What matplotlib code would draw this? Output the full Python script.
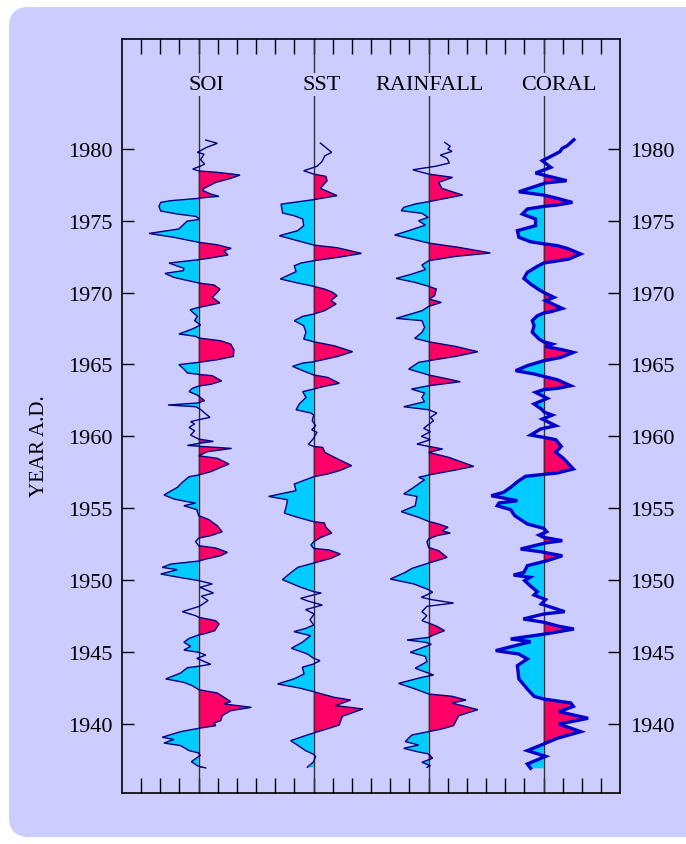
import numpy as np
import matplotlib.pyplot as plt
from matplotlib.patches import FancyBboxPatch

plt.rcParams['font.family'] = ['Liberation Serif', 'DejaVu Serif']

BG = '#CCCCFF'
RED = '#FF0066'
CYAN = '#00CCFF'

# series names and baseline positions (tick units on the x axis)
names = ['SOI', 'SST', 'RAINFALL', 'CORAL']
bases = [4, 10, 16, 22]
label_x = [4.42, 10.43, 16.07, 22.8]

# SOI: year, anomaly (x units)
soi_year = [1980.62, 1980.39, 1980.11, 1979.76, 1979.64, 1979.25, 1978.95, 1978.83, 1978.60, 1978.47,
            1978.37, 1978.25, 1978.18, 1977.95, 1977.67, 1977.26, 1977.12, 1976.86, 1976.70, 1976.65,
            1976.56, 1976.40, 1976.28, 1976.00, 1975.68, 1975.47, 1975.31, 1975.17, 1975.08, 1974.98,
            1974.77, 1974.43, 1974.12, 1973.85, 1973.50, 1973.33, 1973.08, 1972.92, 1972.62, 1972.41,
            1972.29, 1972.06, 1971.69, 1971.53, 1971.34, 1971.06, 1970.67, 1970.53, 1970.25, 1970.02,
            1969.67, 1969.28, 1969.09, 1968.97, 1968.81, 1968.35, 1968.05, 1967.75, 1967.47, 1967.12,
            1966.96, 1966.84, 1966.65, 1966.42, 1966.03, 1965.56, 1965.33, 1965.15, 1964.99, 1964.68,
            1964.41, 1964.31, 1964.22, 1963.85, 1963.62, 1963.50, 1963.34, 1963.11, 1962.87, 1962.48,
            1962.32, 1962.18, 1962.06, 1961.90, 1961.32, 1961.16, 1961.02, 1960.86, 1960.62, 1960.39,
            1960.09, 1959.81, 1959.65, 1959.53, 1959.37, 1959.30, 1959.16, 1958.93, 1958.65, 1958.47,
            1958.07, 1957.84, 1957.54, 1957.31, 1957.19, 1956.80, 1956.45, 1955.92, 1955.64, 1955.45,
            1955.36, 1955.17, 1954.90, 1954.48, 1954.20, 1953.78, 1953.36, 1953.09, 1952.92, 1952.67,
            1952.39, 1952.23, 1951.93, 1951.69, 1951.46, 1951.32, 1951.11, 1950.88, 1950.72, 1950.42,
            1950.19, 1949.96, 1949.73, 1949.49, 1949.10, 1948.87, 1948.57, 1948.17, 1947.80, 1947.52,
            1947.41, 1947.17, 1946.94, 1946.48, 1946.25, 1946.18, 1945.94, 1945.67, 1945.39, 1945.13,
            1944.97, 1944.78, 1944.55, 1944.14, 1944.00, 1943.90, 1943.53, 1943.12, 1942.88, 1942.65,
            1942.37, 1942.14, 1941.84, 1941.54, 1941.38, 1941.14, 1940.91, 1940.56, 1940.22, 1940.05,
            1939.87, 1939.68, 1939.45, 1939.06, 1938.90, 1938.66, 1938.48, 1938.13, 1937.97, 1937.80,
            1937.36, 1937.08, 1936.92]
soi_val = [0.37, 0.97, 0.42, -0.07, 0.28, 0.10, 0.31, 0.14, -0.31, 0.0,
           0.97, 1.76, 2.16, 1.67, 0.89, 0.28, 0.19, 0.63, 1.06, 0.54,
           0.0, -1.46, -1.98, -2.07, -1.98, -1.11, -0.16, 0.0, -0.03, -0.59,
           -0.77, -1.03, -2.59, -1.29, 0.0, 0.97, 1.70, 1.32, 1.53, 0.63,
           0.0, -1.55, -0.77, -0.80, -1.76, -1.29, 0.0, 0.80, 1.11, 0.97,
           0.71, 1.11, 0.45, 0.0, -0.45, -0.07, -0.21, 0.10, -0.33, -1.03,
           -0.16, 0.0, 1.15, 1.67, 1.84, 1.81, 0.97, 0.0, -1.03, -0.77,
           -0.59, 0.0, 0.71, 1.20, 0.63, 0.0, -0.33, -0.50, -0.07, 0.31,
           -0.07, -1.60, -0.16, 0.07, 0.59, 0.0, -0.42, -0.21, -0.50, -0.21,
           -0.42, 0.0, 0.77, 0.10, -0.59, 0.10, 1.72, 0.45, 0.0, 0.97,
           1.58, 1.15, 0.63, 0.0, -0.50, -0.85, -1.11, -1.81, -1.29, -0.59,
           -0.16, -0.77, -0.10, 0.0, 0.54, 0.97, 1.23, 0.63, 0.0, -0.16,
           0.0, 0.89, 1.50, 1.15, 0.37, 0.0, -1.46, -1.90, -1.11, -1.98,
           -1.03, 0.0, 0.71, 0.07, 0.77, 0.14, 0.49, 0.03, -0.85, -0.16,
           0.0, 0.89, 1.06, 0.84, 0.28, 0.0, -0.50, -0.77, -0.42, -0.77,
           0.0, 0.37, -0.10, 0.63, 0.0, -0.59, -0.94, -1.72, -0.77, -0.33,
           0.0, 0.97, 1.32, 1.67, 1.32, 2.75, 1.67, 1.23, 1.15, 0.80,
           0.89, 0.0, -0.94, -1.90, -1.29, -1.81, -0.94, -0.50, 0.0, 0.08,
           -0.38, -0.07, 0.37]
soi_gaps = [(1978.47, 1981), (1959.81, 1962.0), (1952.39, 1952.92), (1947.41, 1949.96), (1944.0, 1944.97)]

sst_year = [1980.41, 1979.76, 1979.53, 1979.11, 1978.79, 1978.48, 1978.25, 1978.09, 1977.79, 1977.26,
            1976.98, 1976.75, 1976.47, 1976.16, 1975.54, 1975.35, 1975.12, 1974.66, 1974.31, 1973.96,
            1973.61, 1973.31, 1973.12, 1972.73, 1972.45, 1972.22, 1972.06, 1971.87, 1971.46, 1970.95,
            1970.67, 1970.44, 1970.25, 1970.02, 1969.79, 1969.44, 1969.21, 1968.74, 1968.51, 1968.35,
            1968.05, 1967.70, 1967.24, 1966.77, 1966.58, 1966.30, 1965.89, 1965.56, 1965.19, 1965.10,
            1964.87, 1964.57, 1964.27, 1964.10, 1963.69, 1963.48, 1963.29, 1963.11, 1962.71, 1962.25,
            1961.85, 1961.62, 1961.48, 1961.09, 1960.74, 1960.46, 1960.28, 1959.81, 1959.44, 1959.30,
            1959.23, 1958.88, 1958.54, 1957.96, 1957.61, 1957.38, 1957.19, 1956.68, 1956.22, 1955.82,
            1955.59, 1955.06, 1954.66, 1954.36, 1954.06, 1953.97, 1953.67, 1953.27, 1952.97, 1952.67,
            1952.44, 1952.20, 1952.09, 1951.81, 1951.51, 1951.18, 1950.88, 1950.50, 1950.03, 1949.50,
            1949.19, 1949.10, 1948.73, 1948.54, 1948.26, 1947.94, 1947.64, 1947.24, 1946.87, 1946.64,
            1946.41, 1946.13, 1945.67, 1945.25, 1944.86, 1944.55, 1944.39, 1944.16, 1943.93, 1943.46,
            1943.12, 1942.77, 1942.47, 1942.23, 1941.84, 1941.65, 1941.26, 1941.03, 1940.52, 1939.91,
            1939.64, 1939.36, 1939.06, 1938.82, 1938.52, 1938.13, 1937.87, 1937.73, 1937.36, 1936.97]
sst_val = [0.35, 0.94, 0.59, 0.43, 0.17, -0.52, 0.0, 0.64, 0.70, 0.35,
           0.82, 1.22, 0.0, -1.70, -1.62, -1.01, -0.57, -0.52, -0.83, -1.79,
           -0.83, 0.0, 1.25, 2.50, 1.25, 0.0, -0.66, -1.01, -0.92, -1.74,
           -0.83, 0.0, 0.56, 0.99, 1.22, 0.90, 1.17, 0.56, 0.0, -0.57,
           -1.01, -0.52, -0.40, -0.52, 0.0, 1.08, 2.03, 1.25, 0.0, -0.57,
           -1.10, -0.57, 0.0, 0.73, 1.34, 0.56, 0.0, -0.57, -0.40, -0.75,
           -0.92, -0.14, 0.0, -0.07, 0.10, -0.10, 0.17, -0.03, -0.28, 0.0,
           0.47, 0.59, 1.08, 1.98, 1.34, 0.73, 0.0, -1.01, -0.92, -2.35,
           -1.36, -1.44, -1.53, -0.83, 0.0, 0.56, 0.64, 0.94, 0.38, 0.0,
           -0.14, 0.0, 0.82, 1.39, 0.90, 0.0, -0.83, -1.20, -1.63, -0.68,
           0.0, 0.40, -0.68, -0.30, 0.45, -0.42, 0.03, -0.19, 0.0, -0.40,
           -1.03, -0.16, -0.59, -1.16, -0.33, 0.0, 0.33, 0.0, -0.59, -0.50,
           -1.03, -1.88, -0.68, 0.0, 1.06, 1.93, 1.15, 2.57, 1.50, 1.33,
           0.70, 0.0, -0.68, -1.20, -0.85, -0.42, 0.0, 0.10, 0.0, -0.33]
sst_gaps = [(1978.25, 1981), (1959.30, 1961.48), (1946.87, 1949.19), (1944.16, 1944.55), (1937.36, 1937.87)]

rain_year = [1980.46, 1980.18, 1979.99, 1979.83, 1979.57, 1979.34, 1979.02, 1978.79, 1978.55, 1978.25,
             1978.02, 1977.67, 1977.25, 1976.79, 1976.51, 1976.33, 1976.17, 1975.93, 1975.70, 1975.52,
             1975.24, 1975.00, 1974.70, 1974.31, 1974.01, 1973.73, 1973.45, 1973.15, 1972.76, 1972.52,
             1972.22, 1971.92, 1971.60, 1971.29, 1970.99, 1970.71, 1970.44, 1970.25, 1969.79, 1969.55,
             1969.32, 1969.04, 1968.74, 1968.21, 1968.05, 1967.58, 1967.23, 1966.82, 1966.58, 1966.26,
             1965.89, 1965.56, 1965.26, 1965.15, 1964.68, 1964.41, 1964.27, 1964.03, 1963.80, 1963.64,
             1963.52, 1963.29, 1963.01, 1962.71, 1962.41, 1962.06, 1961.85, 1961.62, 1961.32, 1961.09,
             1960.56, 1960.32, 1960.00, 1959.77, 1959.46, 1959.30, 1959.12, 1958.88, 1958.54, 1957.91,
             1957.61, 1957.31, 1957.15, 1956.98, 1956.45, 1955.99, 1955.82, 1955.17, 1954.76, 1954.36,
             1954.08, 1953.90, 1953.67, 1953.43, 1953.27, 1953.09, 1952.85, 1952.67, 1952.27, 1952.04,
             1951.58, 1951.35, 1951.18, 1950.81, 1950.53, 1950.07, 1949.73, 1949.33, 1949.15, 1948.80,
             1948.64, 1948.40, 1948.17, 1947.80, 1947.52, 1947.17, 1947.01, 1946.78, 1946.48, 1946.18,
             1946.01, 1945.83, 1945.67, 1945.53, 1944.97, 1944.69, 1944.32, 1943.86, 1943.39, 1943.23,
             1942.81, 1942.42, 1942.07, 1941.91, 1941.65, 1941.44, 1940.98, 1940.56, 1939.87, 1939.64,
             1939.45, 1939.22, 1938.76, 1938.52, 1938.29, 1938.06, 1937.90, 1937.60, 1937.32, 1937.08,
             1936.97]
rain_val = [0.83, 1.13, 1.00, 1.22, 0.61, 0.96, 1.08, 0.35, -0.83, 0.0,
            1.25, 0.52, 0.70, 1.77, 0.70, 0.0, -0.70, -1.30, -1.43, -0.35,
            -0.03, -0.52, -0.17, -1.04, -1.77, -0.87, 0.0, 1.57, 3.22, 1.39,
            0.0, -0.35, -0.17, -0.87, -1.70, -0.70, 0.0, 0.40, 0.31, 0.03,
            0.66, 0.0, -0.35, -1.70, -0.35, -0.21, -0.35, -0.73, 0.0, 1.39,
            2.57, 1.39, 0.0, -0.52, -1.04, -0.35, 0.0, 0.87, 1.65, 0.70,
            0.0, -0.90, -0.21, -0.35, -0.21, -1.30, 0.0, 0.43, 0.09, 0.26,
            -0.26, 0.09, -0.38, 0.09, -0.61, 0.0, 0.73, 0.0, 1.04, 2.35,
            1.22, 0.0, -0.52, -0.21, -0.78, -1.30, -0.61, -0.70, -1.43, -0.52,
            0.0, 0.52, 1.01, 0.70, 1.13, 0.43, 0.0, -0.09, 0.0, 0.52,
            0.96, 0.43, 0.0, -0.87, -1.22, -2.00, -0.78, 0.0, 0.21, -0.38,
            0.14, 1.30, -0.09, -0.35, -0.09, -0.35, 0.0, 0.43, 0.83, 0.26,
            0.0, -1.13, -0.17, 0.14, -0.96, -0.17, -0.09, -0.70, 0.26, -0.35,
            -1.57, -0.70, 0.0, 1.22, 1.95, 1.22, 2.57, 1.57, 1.30, 0.70,
            0.0, -0.87, -1.22, -0.52, -1.30, -0.61, 0.0, 0.21, -0.35, 0.09,
            -0.09]
rain_gaps = [(1978.25, 1981), (1959.30, 1961.85), (1947.01, 1949.33)]

coral_year = [1980.64, 1980.22, 1980.04, 1979.81, 1979.53, 1979.18, 1978.72, 1978.32, 1978.18, 1978.02,
              1977.79, 1977.63, 1977.44, 1977.02, 1976.79, 1976.56, 1976.28, 1976.10, 1976.00, 1975.82,
              1975.47, 1975.12, 1974.66, 1974.31, 1973.85, 1973.54, 1973.40, 1973.27, 1973.08, 1972.69,
              1972.34, 1972.06, 1971.83, 1971.41, 1970.99, 1970.60, 1970.20, 1970.02, 1969.67, 1969.44,
              1968.90, 1968.67, 1968.58, 1968.39, 1968.05, 1967.70, 1967.24, 1966.77, 1966.58, 1966.42,
              1966.25, 1966.03, 1965.84, 1965.49, 1965.26, 1964.92, 1964.57, 1964.34, 1964.17, 1963.94,
              1963.52, 1963.34, 1963.25, 1963.06, 1962.64, 1962.25, 1961.90, 1961.67, 1961.48, 1961.20,
              1960.74, 1960.51, 1960.09, 1959.93, 1959.77, 1959.30, 1958.89, 1958.47, 1957.73, 1957.45,
              1957.35, 1957.22, 1956.84, 1956.45, 1956.10, 1955.87, 1955.68, 1955.52, 1955.36, 1955.17,
              1954.90, 1954.48, 1953.90, 1953.60, 1953.36, 1953.13, 1952.97, 1952.74, 1952.58, 1952.16,
              1951.97, 1951.69, 1951.35, 1951.00, 1950.53, 1950.35, 1950.19, 1949.96, 1949.61, 1949.19,
              1948.96, 1948.64, 1948.33, 1947.80, 1947.64, 1947.29, 1947.06, 1946.78, 1946.59, 1946.25,
              1945.90, 1945.71, 1945.09, 1944.85, 1944.51, 1944.04, 1943.12, 1942.42, 1941.91, 1941.72,
              1941.45, 1941.21, 1940.84, 1940.38, 1939.98, 1939.45, 1938.99, 1938.59, 1938.13, 1937.73,
              1937.20, 1936.90]
coral_val = [1.58, 1.23, 0.97, 0.85, 0.45, -0.07, 0.37, -0.42, 0.0, 0.50,
             1.20, 0.10, -0.33, -1.29, 0.0, 0.71, 1.50, 0.71, 0.0, -0.85,
             -1.11, -0.42, -0.42, -1.37, -1.29, -0.68, 0.0, 0.71, 1.23, 1.93,
             1.32, 0.0, -0.33, -0.85, -1.03, -0.68, -0.24, 0.0, 0.54, 0.10,
             0.97, 0.37, 0.0, -0.33, -0.59, -0.50, -0.59, -0.24, 0.0, 0.45,
             0.10, 0.97, 1.55, 0.89, 0.0, -0.85, -1.46, -0.50, 0.0, 0.71,
             1.41, 0.71, 0.0, -0.42, 0.19, -0.50, -0.12, 0.05, 0.45, -0.07,
             0.63, -0.16, -0.68, 0.0, 0.63, 0.92, 0.63, 1.03, 1.55, 0.71,
             0.0, -0.94, -1.37, -1.72, -2.10, -2.73, -1.98, -1.37, -2.33, -2.42,
             -1.72, -1.51, -0.85, 0.0, 0.16, -0.24, 0.0, 0.97, 0.10, -1.20,
             -0.16, 0.97, 0.19, -0.85, -1.03, -1.57, -0.71, -0.99, -0.71, -0.33,
             -0.50, 0.10, -0.12, 1.10, 0.02, -1.06, 0.02, 0.80, 1.58, 0.10,
             -1.72, -0.68, -2.50, -1.29, -0.85, -1.37, -1.29, -0.85, -0.50, 0.0,
             1.41, 1.55, 0.80, 2.32, 0.80, 1.93, 0.71, 0.0, -0.85, 0.10,
             -0.85, -0.68]
coral_gaps = [(1978.18, 1981), (1959.93, 1961.67), (1947.06, 1948.9)]

series = [(soi_year, soi_val, soi_gaps, '#000080', 1.0),
          (sst_year, sst_val, sst_gaps, '#000080', 1.0),
          (rain_year, rain_val, rain_gaps, '#000080', 1.0),
          (coral_year, coral_val, coral_gaps, '#0000CC', 2.4)]

year_ticks = list(range(1940, 1981, 5))

fig = plt.figure(figsize=(6.86, 8.45), dpi=100)
fig.patch.set_facecolor('white')
panel = FancyBboxPatch((0.09, 0.07), 7.3, 8.30, boxstyle='round,pad=0,rounding_size=0.2',
                       transform=fig.dpi_scale_trans, fc=BG, ec='none', zorder=0)
fig.add_artist(panel)

ax = fig.add_axes([122 / 686, 1 - 794.3 / 845, (620.3 - 122) / 686, (794.3 - 40) / 845])
ax.set_facecolor('none')

for (yr, vl, gaps, lc, lw), base in zip(series, bases):
    y = np.array(yr)
    v = np.array(vl)
    keep = np.ones(len(y), bool)
    for a, b in gaps:
        keep &= ~((y > a) & (y < b))
    ax.fill_betweenx(y, base, base + v, where=(v >= 0) & keep, interpolate=True,
                     color=RED, lw=0, zorder=1)
    ax.fill_betweenx(y, base, base + v, where=(v <= 0) & keep, interpolate=True,
                     color=CYAN, lw=0, zorder=1)
    ax.axvline(base, color='#333333', lw=1.0, zorder=2)
    ax.plot(base + v, y, color=lc, lw=lw, zorder=3, solid_joinstyle='miter')

for name, lx in zip(names, label_x):
    ax.text(lx, 1984.45, name, ha='center', va='center', fontsize=16, zorder=4,
            bbox=dict(fc=BG, ec='none', pad=1.5))

ax.set_xlim(0, 26)
ax.set_ylim(1935.16, 1987.65)
ax.set_xticks(np.arange(1, 26))
ax.set_yticks(year_ticks)
ax.tick_params(axis='x', bottom=True, top=True, direction='in', length=11, width=1,
               labelbottom=False)
ax.tick_params(axis='y', left=True, right=True, labelleft=True, labelright=True,
               direction='in', length=8.5, width=1, labelsize=16, pad=7)
for s in ax.spines.values():
    s.set_linewidth(1.2)

fig.text(40 / 686, 1 - 446 / 845, 'YEAR A.D.', rotation=90, ha='center', va='center', fontsize=15)

fig.savefig('out.png', dpi=100)
